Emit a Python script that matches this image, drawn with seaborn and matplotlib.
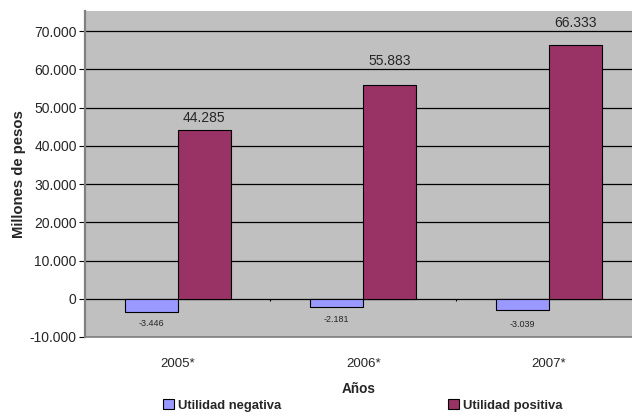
import pandas as pd
import seaborn as sns
import matplotlib.pyplot as plt
from matplotlib.patches import Patch

# Values (millones de pesos)
years = ['2005*', '2006*', '2007*']
negativa = [-3446, -2181, -3039]
positiva = [44285, 55883, 66333]
series_names = ['Utilidad negativa', 'Utilidad positiva']
colors = ['#9999FF', '#993366']

df = pd.DataFrame({
    'anio': years * 2,
    'valor': negativa + positiva,
    'serie': [series_names[0]] * 3 + [series_names[1]] * 3,
})

sns.set_style('white')
plt.rcParams['font.family'] = ['Liberation Sans', 'DejaVu Sans']

fig = plt.figure(figsize=(6.32, 4.16), dpi=100)
ax = fig.add_axes([85 / 632, 79 / 416, 547 / 632, 326 / 416])
ax.set_facecolor('#C0C0C0')

sns.barplot(data=df, x='anio', y='valor', hue='serie', palette=colors, saturation=1,
            width=0.572, edgecolor='black', linewidth=0.8, ax=ax, legend=False)

ax.set_xlim(-0.5, 2.449)
ax.set_ylim(-10000, 75300)
ax.set_yticks(range(-10000, 70001, 10000))
ax.set_yticklabels(['{:,}'.format(v).replace(',', '.') for v in range(-10000, 70001, 10000)],
                   fontsize=10)
ax.yaxis.grid(True, color='black', linewidth=0.9)
ax.set_axisbelow(True)
ax.tick_params(axis='y', length=4, width=0.8, color='black', pad=2, left=True)
ax.tick_params(axis='x', length=0, pad=15, labelsize=9.5)

for s in ['top', 'right']:
    ax.spines[s].set_visible(False)
ax.spines['left'].set_color('#808080')
ax.spines['left'].set_linewidth(1.6)
ax.spines['bottom'].set_color('#808080')
ax.spines['bottom'].set_linewidth(1.2)

# category separators on the zero line
ax.vlines([0.5, 1.5], -700, 0, color='black', linewidth=0.8)

ax.set_xlabel('Años', fontsize=9.8, fontweight='bold', labelpad=9)
ax.set_ylabel('Millones de pesos', fontsize=10.7, fontweight='bold', labelpad=3)

# data labels (label gaps as placed in the original chart)
pos_gap = [1300, 4600, 4100]
neg_gap = [2900, 3300, 3600]
for bar, v, g in zip(ax.containers[0], negativa, neg_gap):
    x = bar.get_x() + bar.get_width() / 2
    ax.text(x, v - g, '{:,}'.format(v).replace(',', '.'), ha='center', va='center', fontsize=6.5)
for bar, v, g in zip(ax.containers[1], positiva, pos_gap):
    x = bar.get_x() + bar.get_width() / 2
    ax.text(x, v + g, '{:,}'.format(v).replace(',', '.'), ha='center', va='bottom', fontsize=10)

handles = [Patch(facecolor=c, edgecolor='black', linewidth=0.8) for c in colors]
fig.legend(handles, series_names, loc='lower center', bbox_to_anchor=(0.574, -0.018),
           ncol=2, frameon=False, columnspacing=12.8, handlelength=0.8,
           handleheight=0.8, handletextpad=0.3,
           prop={'weight': 'bold', 'size': 9.4})

fig.savefig('out.png', dpi=100)
